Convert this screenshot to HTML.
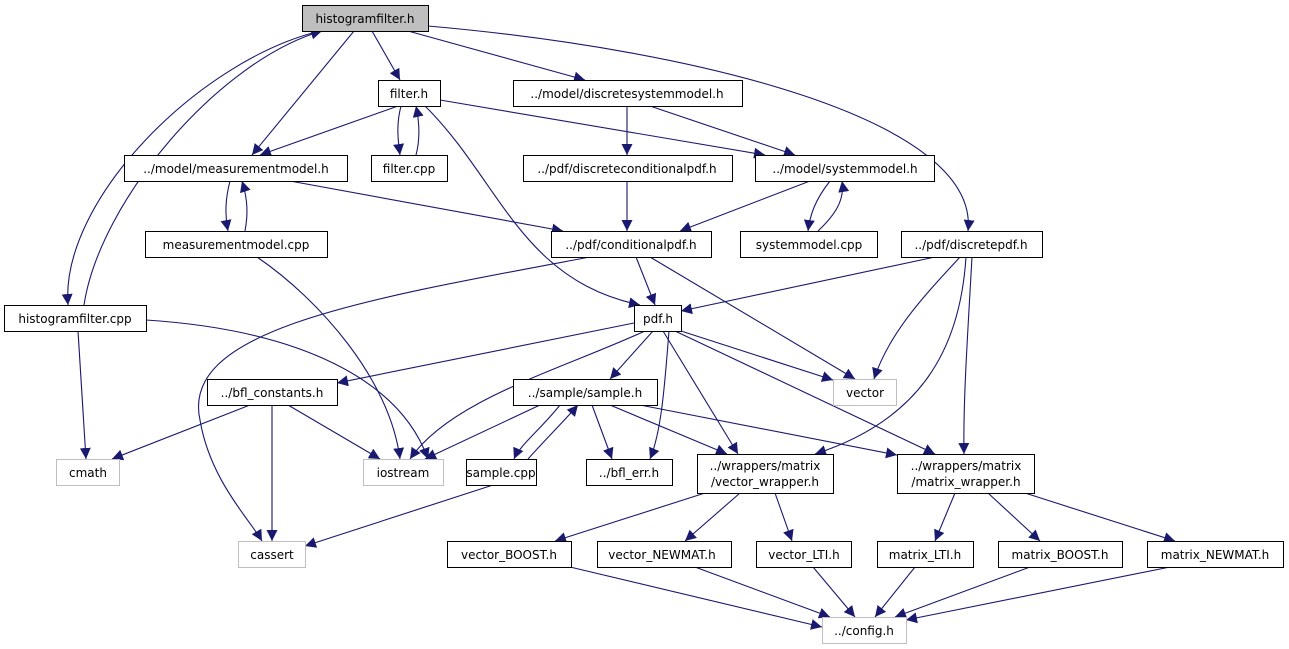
<!DOCTYPE html>
<html><head><meta charset="utf-8"><style>
html,body{margin:0;padding:0;background:#fff;}
svg{display:block;}
text{font-family:"DejaVu Sans","Liberation Sans",sans-serif;font-size:12px;fill:#000;}
.e{fill:none;stroke:#191970;stroke-width:1.1;}
</style></head><body>
<svg width="1289" height="649" viewBox="0 0 1289 649" xmlns="http://www.w3.org/2000/svg">
<defs><marker id="a" viewBox="0 0 10 10" refX="10" refY="5" markerWidth="11" markerHeight="11" markerUnits="userSpaceOnUse" orient="auto"><path d="M0,0 L10,5 L0,10 z" fill="#191970"/></marker></defs>
<g class="e" marker-end="url(#a)">
<path d="M372,31 L400,80"/>
<path d="M408,31 L585,80"/>
<path d="M354,31 L252,155"/>
<path d="M320,31 C200,60 60,200 68,305"/>
<path d="M84,305 C100,200 220,60 322,31"/>
<path d="M428,26 C700,50 980,120 968,231"/>
<path d="M398,106 L260,155"/>
<path d="M401,106 C396,125 398,140 400,155"/>
<path d="M416,155 C420,140 420,125 416,106"/>
<path d="M440,100 L765,155"/>
<path d="M425,106 C500,180 520,280 640,305"/>
<path d="M627,106 L627,155"/>
<path d="M650,106 L795,155"/>
<path d="M230,181 C225,200 225,215 228,231"/>
<path d="M245,231 C248,215 248,200 242,181"/>
<path d="M290,181 L563,231"/>
<path d="M627,181 L627,231"/>
<path d="M810,181 L680,231"/>
<path d="M830,181 C815,200 810,215 808,231"/>
<path d="M818,231 C835,215 845,200 842,181"/>
<path d="M257,257 C320,300 390,380 400,459"/>
<path d="M590,257 C360,300 180,330 200,420 C210,480 250,520 262,541"/>
<path d="M636,257 L655,305"/>
<path d="M650,257 L855,379"/>
<path d="M935,257 L681,311"/>
<path d="M960,257 C930,290 890,330 874,379"/>
<path d="M966,257 C960,350 920,420 815,454"/>
<path d="M972,257 C968,330 963,400 964,454"/>
<path d="M78,331 L86,459"/>
<path d="M146,320 C300,330 400,380 428,459"/>
<path d="M634,323 L337,383"/>
<path d="M653,331 L610,379"/>
<path d="M645,331 C560,370 450,400 410,459"/>
<path d="M669,331 C665,380 662,430 650,459"/>
<path d="M663,331 L738,454"/>
<path d="M675,331 L935,454"/>
<path d="M681,331 L833,380"/>
<path d="M250,405 L112,459"/>
<path d="M288,405 L380,459"/>
<path d="M272,405 L272,541"/>
<path d="M540,405 L425,459"/>
<path d="M560,405 C540,430 520,445 514,459"/>
<path d="M528,459 C545,440 565,420 578,405"/>
<path d="M592,405 L612,459"/>
<path d="M610,405 L727,454"/>
<path d="M640,405 L897,455"/>
<path d="M493,485 L305,546"/>
<path d="M705,493 L555,541"/>
<path d="M740,493 L685,541"/>
<path d="M775,493 L792,541"/>
<path d="M955,493 L935,541"/>
<path d="M988,493 L1040,541"/>
<path d="M1025,493 L1175,541"/>
<path d="M570,567 L822,627"/>
<path d="M695,567 L830,617"/>
<path d="M813,567 L855,617"/>
<path d="M915,567 L875,617"/>
<path d="M1030,567 L895,617"/>
<path d="M1170,567 L906,620"/>
</g>
<g stroke-width="1">
<rect x="302.5" y="5.5" width="126" height="26" fill="#bfbfbf" stroke="#000"/>
<g fill="#fff" stroke="#000">
<rect x="378.5" y="80.5" width="62" height="26"/>
<rect x="513.5" y="80.5" width="229" height="26"/>
<rect x="124.5" y="155.5" width="223" height="26"/>
<rect x="371.5" y="155.5" width="76" height="26"/>
<rect x="523.5" y="155.5" width="209" height="26"/>
<rect x="755.5" y="155.5" width="179" height="26"/>
<rect x="145.5" y="231.5" width="182" height="26"/>
<rect x="551.5" y="231.5" width="160" height="26"/>
<rect x="740.5" y="231.5" width="137" height="26"/>
<rect x="901.5" y="231.5" width="141" height="26"/>
<rect x="4.5" y="305.5" width="142" height="26"/>
<rect x="634.5" y="305.5" width="47" height="26"/>
<rect x="207.5" y="379.5" width="130" height="26"/>
<rect x="513.5" y="379.5" width="144" height="26"/>
<rect x="466.5" y="459.5" width="70" height="26"/>
<rect x="586.5" y="459.5" width="86" height="26"/>
<rect x="697.5" y="454.5" width="136" height="39"/>
<rect x="897.5" y="454.5" width="137" height="39"/>
<rect x="447.5" y="541.5" width="124" height="26"/>
<rect x="597.5" y="541.5" width="134" height="26"/>
<rect x="756.5" y="541.5" width="95" height="26"/>
<rect x="877.5" y="541.5" width="96" height="26"/>
<rect x="998.5" y="541.5" width="124" height="26"/>
<rect x="1147.5" y="541.5" width="136" height="26"/>
</g>
<g fill="#fff" stroke="#bfbfbf">
<rect x="833.5" y="379.5" width="63" height="26"/>
<rect x="56.5" y="459.5" width="63" height="26"/>
<rect x="363.5" y="459.5" width="80" height="26"/>
<rect x="238.5" y="541.5" width="67" height="26"/>
<rect x="822.5" y="617.5" width="84" height="26"/>
</g>
</g>
<g text-anchor="middle">
<text x="365" y="23">histogramfilter.h</text>
<text x="409" y="98">filter.h</text>
<text x="627" y="98">../model/discretesystemmodel.h</text>
<text x="236" y="173">../model/measurementmodel.h</text>
<text x="409" y="173">filter.cpp</text>
<text x="627" y="173">../pdf/discreteconditionalpdf.h</text>
<text x="845" y="173">../model/systemmodel.h</text>
<text x="236" y="249">measurementmodel.cpp</text>
<text x="631" y="249">../pdf/conditionalpdf.h</text>
<text x="809" y="249">systemmodel.cpp</text>
<text x="971" y="249">../pdf/discretepdf.h</text>
<text x="75" y="323">histogramfilter.cpp</text>
<text x="658" y="323">pdf.h</text>
<text x="272" y="397">../bfl_constants.h</text>
<text x="585" y="397">../sample/sample.h</text>
<text x="865" y="397">vector</text>
<text x="88" y="477">cmath</text>
<text x="403" y="477">iostream</text>
<text x="501" y="477">sample.cpp</text>
<text x="629" y="477">../bfl_err.h</text>
<text x="765" y="470">../wrappers/matrix</text>
<text x="765" y="486">/vector_wrapper.h</text>
<text x="966" y="470">../wrappers/matrix</text>
<text x="966" y="486">/matrix_wrapper.h</text>
<text x="272" y="559">cassert</text>
<text x="509" y="559">vector_BOOST.h</text>
<text x="662" y="559">vector_NEWMAT.h</text>
<text x="804" y="559">vector_LTI.h</text>
<text x="925" y="559">matrix_LTI.h</text>
<text x="1060" y="559">matrix_BOOST.h</text>
<text x="1215" y="559">matrix_NEWMAT.h</text>
<text x="864" y="635">../config.h</text>
</g>
</svg>
</body></html>
